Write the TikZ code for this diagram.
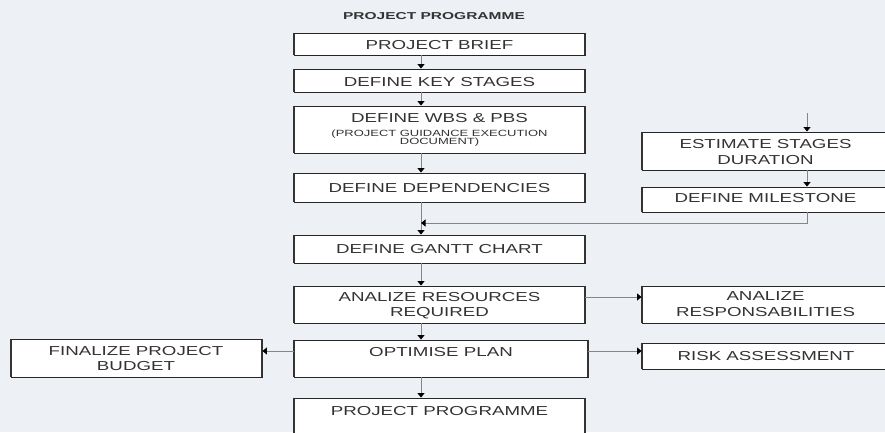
\documentclass[tikz,border=0pt]{standalone}
\usepackage{fontspec}
\setmainfont{Liberation Sans}
\newfontfamily\boxfont[FakeStretch=1.44]{Liberation Sans}
\newfontfamily\ttlfont[FakeStretch=1.55]{Liberation Sans}
\usetikzlibrary{arrows.meta}
\definecolor{bgc}{HTML}{EDF0F5}
\definecolor{connc}{HTML}{858585}
\begin{document}
\begin{tikzpicture}[x=1pt,y=-1pt,
  box/.style={draw=black!85, line width=0.9pt, fill=white, inner sep=0pt, anchor=center,
    append after command={(\tikzlastnode.north west) edge[draw=black!80, line width=2pt] (\tikzlastnode.south west)
                          (\tikzlastnode.north east) edge[draw=black!80, line width=2pt] (\tikzlastnode.south east)}},
  lbl/.style={font=\boxfont\fontsize{13}{15}\selectfont, anchor=base, inner sep=0pt, text=black!80},
  smalllbl/.style={font=\boxfont\fontsize{9}{10}\selectfont, anchor=base, inner sep=0pt, text=black!80},
  conn/.style={draw=connc, line width=1pt, -{Triangle[color=black,width=7pt,length=4.5pt]}},
  plain/.style={draw=connc, line width=1pt}]
\fill[bgc] (0,0) rectangle (885,432);
\useasboundingbox (0,0) rectangle (885,432);

\node[font=\ttlfont\bfseries\fontsize{10}{12}\selectfont, anchor=base, inner sep=0pt, text=black!80] (title) at (434,19.5) {PROJECT PROGRAMME};

% main column
\node[box, minimum width=291pt, minimum height=22pt] (b1) at (439.5,44) {};
\node[box, minimum width=291pt, minimum height=23pt] (b2) at (439.5,80.5) {};
\node[box, minimum width=291pt, minimum height=47pt] (b3) at (439.5,129.5) {};
\node[box, minimum width=291pt, minimum height=29pt] (b4) at (439.5,187.5) {};
\node[box, minimum width=291pt, minimum height=28pt] (b5) at (439.5,249) {};
\node[box, minimum width=291pt, minimum height=37pt] (b6) at (439.5,304.5) {};
\node[box, minimum width=294pt, minimum height=37pt] (b7) at (441,358.5) {};
\node[box, minimum width=291pt, minimum height=42pt] (b8) at (439.5,419) {};

\node[lbl] (t1) at (439.5,49) {PROJECT BRIEF};
\node[lbl] (t2) at (439.5,86) {DEFINE KEY STAGES};
\node[lbl] (t3) at (439.5,122.5) {DEFINE WBS \& PBS};
\node[smalllbl] (t3a) at (439.5,136) {(PROJECT GUIDANCE EXECUTION};
\node[smalllbl] (t3b) at (439.5,144.5) {DOCUMENT)};
\node[lbl] (t4) at (439.5,192) {DEFINE DEPENDENCIES};
\node[lbl] (t5) at (439.5,253) {DEFINE GANTT CHART};
\node[lbl] (t6a) at (439.5,301.5) {ANALIZE RESOURCES};
\node[lbl] (t6b) at (439.5,316.5) {REQUIRED};
\node[lbl] (t7) at (441,356) {OPTIMISE PLAN};
\node[lbl] (t8) at (439.5,415) {PROJECT PROGRAMME};

% right column
\node[box, minimum width=246pt, minimum height=38pt] (r1) at (765,151) {};
\node[box, minimum width=246pt, minimum height=25pt] (r2) at (765,199.5) {};
\node[box, minimum width=246pt, minimum height=37pt] (r3) at (765,304.5) {};
\node[box, minimum width=246pt, minimum height=26pt] (r4) at (765,356) {};

\node[lbl] (u1a) at (765.5,148.7) {ESTIMATE STAGES};
\node[lbl] (u1b) at (765.5,164.7) {DURATION};
\node[lbl] (u2) at (765.5,202.7) {DEFINE MILESTONE};
\node[lbl] (u3a) at (765.5,300) {ANALIZE};
\node[lbl] (u3b) at (765.5,316.7) {RESPONSABILITIES};
\node[lbl] (u4) at (766,360) {RISK ASSESSMENT};

% left
\node[box, minimum width=251pt, minimum height=38pt] (l1) at (136.5,358) {};
\node[lbl] (v1a) at (136,355) {FINALIZE PROJECT};
\node[lbl] (v1b) at (136,370.7) {BUDGET};

% connectors
\coordinate (ax) at (421,0);
\draw[conn] (b1.south -| ax) -- (b2.north -| ax);
\draw[conn] (b2.south -| ax) -- (b3.north -| ax);
\draw[conn] (b3.south -| ax) -- (b4.north -| ax);
\draw[conn] (b4.south -| ax) -- (b5.north -| ax);
\draw[conn] (b5.south -| ax) -- (b6.north -| ax);
\draw[conn] (b6.south -| ax) -- (b7.north -| ax);
\draw[conn] (b7.south -| ax) -- (b8.north -| ax);

\coordinate (rtop) at (807,113);
\coordinate (jn) at (807,223);
\draw[conn] (rtop) -- (r1.north -| rtop);
\draw[conn] (r1.south -| rtop) -- (r2.north -| rtop);
\draw[conn] (r2.south -| rtop) -- (jn) -- (ax |- jn);

\draw[conn] ([yshift=7.5pt]b6.east) -- ([yshift=7.5pt]b6.east -| r3.west);
\draw[conn] ([yshift=7.5pt]b7.east) -- ([yshift=7.5pt]b7.east -| r4.west);
\draw[conn] ([yshift=7.5pt]b7.west) -- ([yshift=7.5pt]b7.west -| l1.east);
\end{tikzpicture}
\end{document}
